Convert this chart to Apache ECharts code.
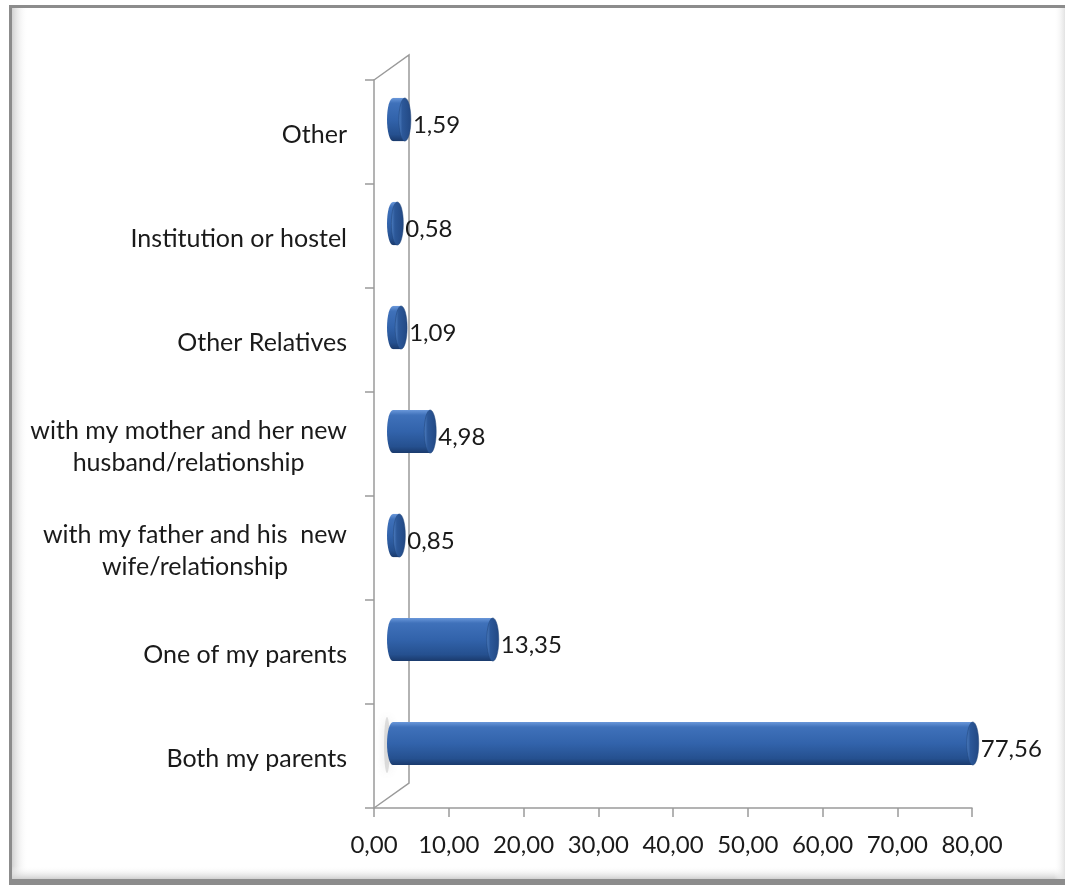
<!DOCTYPE html>
<html><head><meta charset="utf-8">
<script src="https://cdn.jsdelivr.net/npm/echarts@6/dist/echarts.min.js"></script>
<style>html,body{margin:0;padding:0;background:#fff}#c{width:1065px;height:885px}</style>
</head><body><div id="c"></div>
<script>
// ---- data ----
const categories = [
  'Both my parents',
  'One of my parents',
  'with my father and his  new\nwife/relationship',
  'with my mother and her new\nhusband/relationship',
  'Other Relatives',
  'Institution or hostel',
  'Other'
];
const values = [77.56, 13.35, 0.85, 4.98, 1.09, 0.58, 1.59];
const xMin = 0, xMax = 80, xStep = 10;

// ---- layout constants ----
const FONT = 'Lato';
const G = {left: 374, top: 80, right: 1065 - 972, bottom: 885 - 808};
const DEPTH_X = 35, DEPTH_Y = 25;
const fmt = v => v.toFixed(2).replace('.', ',');

const bodyGrad = {type: 'linear', x: 0, y: 0, x2: 0, y2: 1, colorStops: [
  {offset: 0, color: '#6a98da'}, {offset: 0.12, color: '#3f71ba'},
  {offset: 0.5, color: '#3263ab'}, {offset: 0.85, color: '#25508f'},
  {offset: 1, color: '#1a3a6c'}]};
const capGrad = {type: 'linear', x: 0, y: 0, x2: 1, y2: 0, colorStops: [
  {offset: 0, color: '#4f80c4'}, {offset: 0.3, color: '#2c5899'},
  {offset: 1, color: '#224883'}]};

function renderItem(params, api) {
  const val = api.value(0), cat = api.value(1);
  const p0 = api.coord([0, cat]);
  const p1 = api.coord([val, cat]);
  const band = api.size([0, 1])[1];
  const h = band * 0.415, ry = h / 2, rx = 6;
  const x0 = p0[0] + 19, x1 = p1[0] + 19;
  const yc = p0[1] - band * 0.12;
  return {
    type: 'group',
    children: [
      {type: 'ellipse', shape: {cx: x0, cy: yc, rx: rx, ry: ry}, style: {fill: bodyGrad}},
      {type: 'rect', shape: {x: x0, y: yc - ry, width: Math.max(x1 - x0, 0), height: h}, style: {fill: bodyGrad}},
      {type: 'ellipse', shape: {cx: x1, cy: yc, rx: rx, ry: ry}, style: {fill: capGrad, stroke: '#1f4277', lineWidth: 0.5}},
      {type: 'text', style: {text: fmt(val), x: x1 + rx + 2, y: yc + 6, verticalAlign: 'middle', align: 'left',
        fontSize: 24, fontFamily: FONT, fill: '#1a1a1a'}}
    ]
  };
}

const chart = echarts.init(document.getElementById('c'), null, {renderer: 'canvas'});
const wallL = G.left, wallT = G.top, wallB = 885 - G.bottom;
chart.setOption({
  backgroundColor: '#ffffff',
  animation: false,
  grid: {left: G.left, top: G.top, right: G.right, bottom: G.bottom, containLabel: false},
  xAxis: {
    type: 'value', min: xMin, max: xMax, interval: xStep,
    axisLine: {show: true, lineStyle: {color: '#9a9a9a', width: 1.5}},
    axisTick: {show: true, length: 9, lineStyle: {color: '#9a9a9a', width: 1.5}},
    splitLine: {show: false},
    axisLabel: {formatter: fmt, fontSize: 24, fontFamily: FONT, color: '#1a1a1a', margin: 25}
  },
  yAxis: {
    type: 'category', data: categories,
    axisLine: {show: true, lineStyle: {color: '#9a9a9a', width: 1.5}},
    axisTick: {show: true, length: 9, alignWithLabel: false, lineStyle: {color: '#9a9a9a', width: 1.5}},
    axisLabel: {
      margin: 27, align: 'right', color: '#1a1a1a', fontFamily: FONT, fontSize: 25,
      padding: [6, 0, 0, 0],
      formatter: v => v.split('\n').map(l => '{c|' + l + '}').join('\n'),
      rich: {c: {align: 'center', fontSize: 25, fontFamily: FONT, color: '#1a1a1a', lineHeight: 32}}
    }
  },
  graphic: [
    // frame
    {type: 'rect', z: 0, shape: {x: 12, y: 8, width: 16, height: 872},
      style: {fill: {type: 'linear', x: 0, y: 0, x2: 1, y2: 0, colorStops: [{offset: 0, color: '#d2d2d2'}, {offset: 1, color: 'rgba(255,255,255,0)'}]}}},
    {type: 'rect', z: 0, shape: {x: 12, y: 866, width: 1053, height: 13},
      style: {fill: {type: 'linear', x: 0, y: 0, x2: 0, y2: 1, colorStops: [{offset: 0, color: 'rgba(255,255,255,0)'}, {offset: 1, color: '#d0d0d0'}]}}},
    {type: 'rect', z: 0, shape: {x: 1054, y: 8, width: 11, height: 871},
      style: {fill: {type: 'linear', x: 0, y: 0, x2: 1, y2: 0, colorStops: [{offset: 0, color: 'rgba(255,255,255,0)'}, {offset: 1, color: '#e2e2e2'}]}}},
    {type: 'rect', z: 1, shape: {x: 9, y: 5, width: 1056, height: 3}, style: {fill: '#8c8c8c'}},
    {type: 'rect', z: 1, shape: {x: 9, y: 5, width: 3, height: 880}, style: {fill: '#8c8c8c'}},
    {type: 'rect', z: 1, shape: {x: 9, y: 879, width: 1056, height: 6}, style: {fill: '#8c8c8c'}},
    // soft shadow on the side wall next to the long bar
    {type: 'ellipse', z: 1, shape: {cx: 387, cy: 745, rx: 3, ry: 28},
      style: {fill: 'rgba(170,170,170,0.35)', shadowBlur: 10, shadowColor: 'rgba(110,110,110,0.55)'}},
    // 3D side wall
    {type: 'polyline', z: 1, shape: {points: [[wallL, wallT], [wallL + DEPTH_X, wallT - DEPTH_Y], [wallL + DEPTH_X, wallB - DEPTH_Y], [wallL, wallB]]},
      style: {stroke: '#9a9a9a', lineWidth: 1.5, fill: 'none'}}
  ],
  series: [{
    type: 'custom', renderItem: renderItem, clip: false,
    encode: {x: 0, y: 1},
    data: values.map((v, i) => [v, i])
  }]
});
</script>
</body></html>
